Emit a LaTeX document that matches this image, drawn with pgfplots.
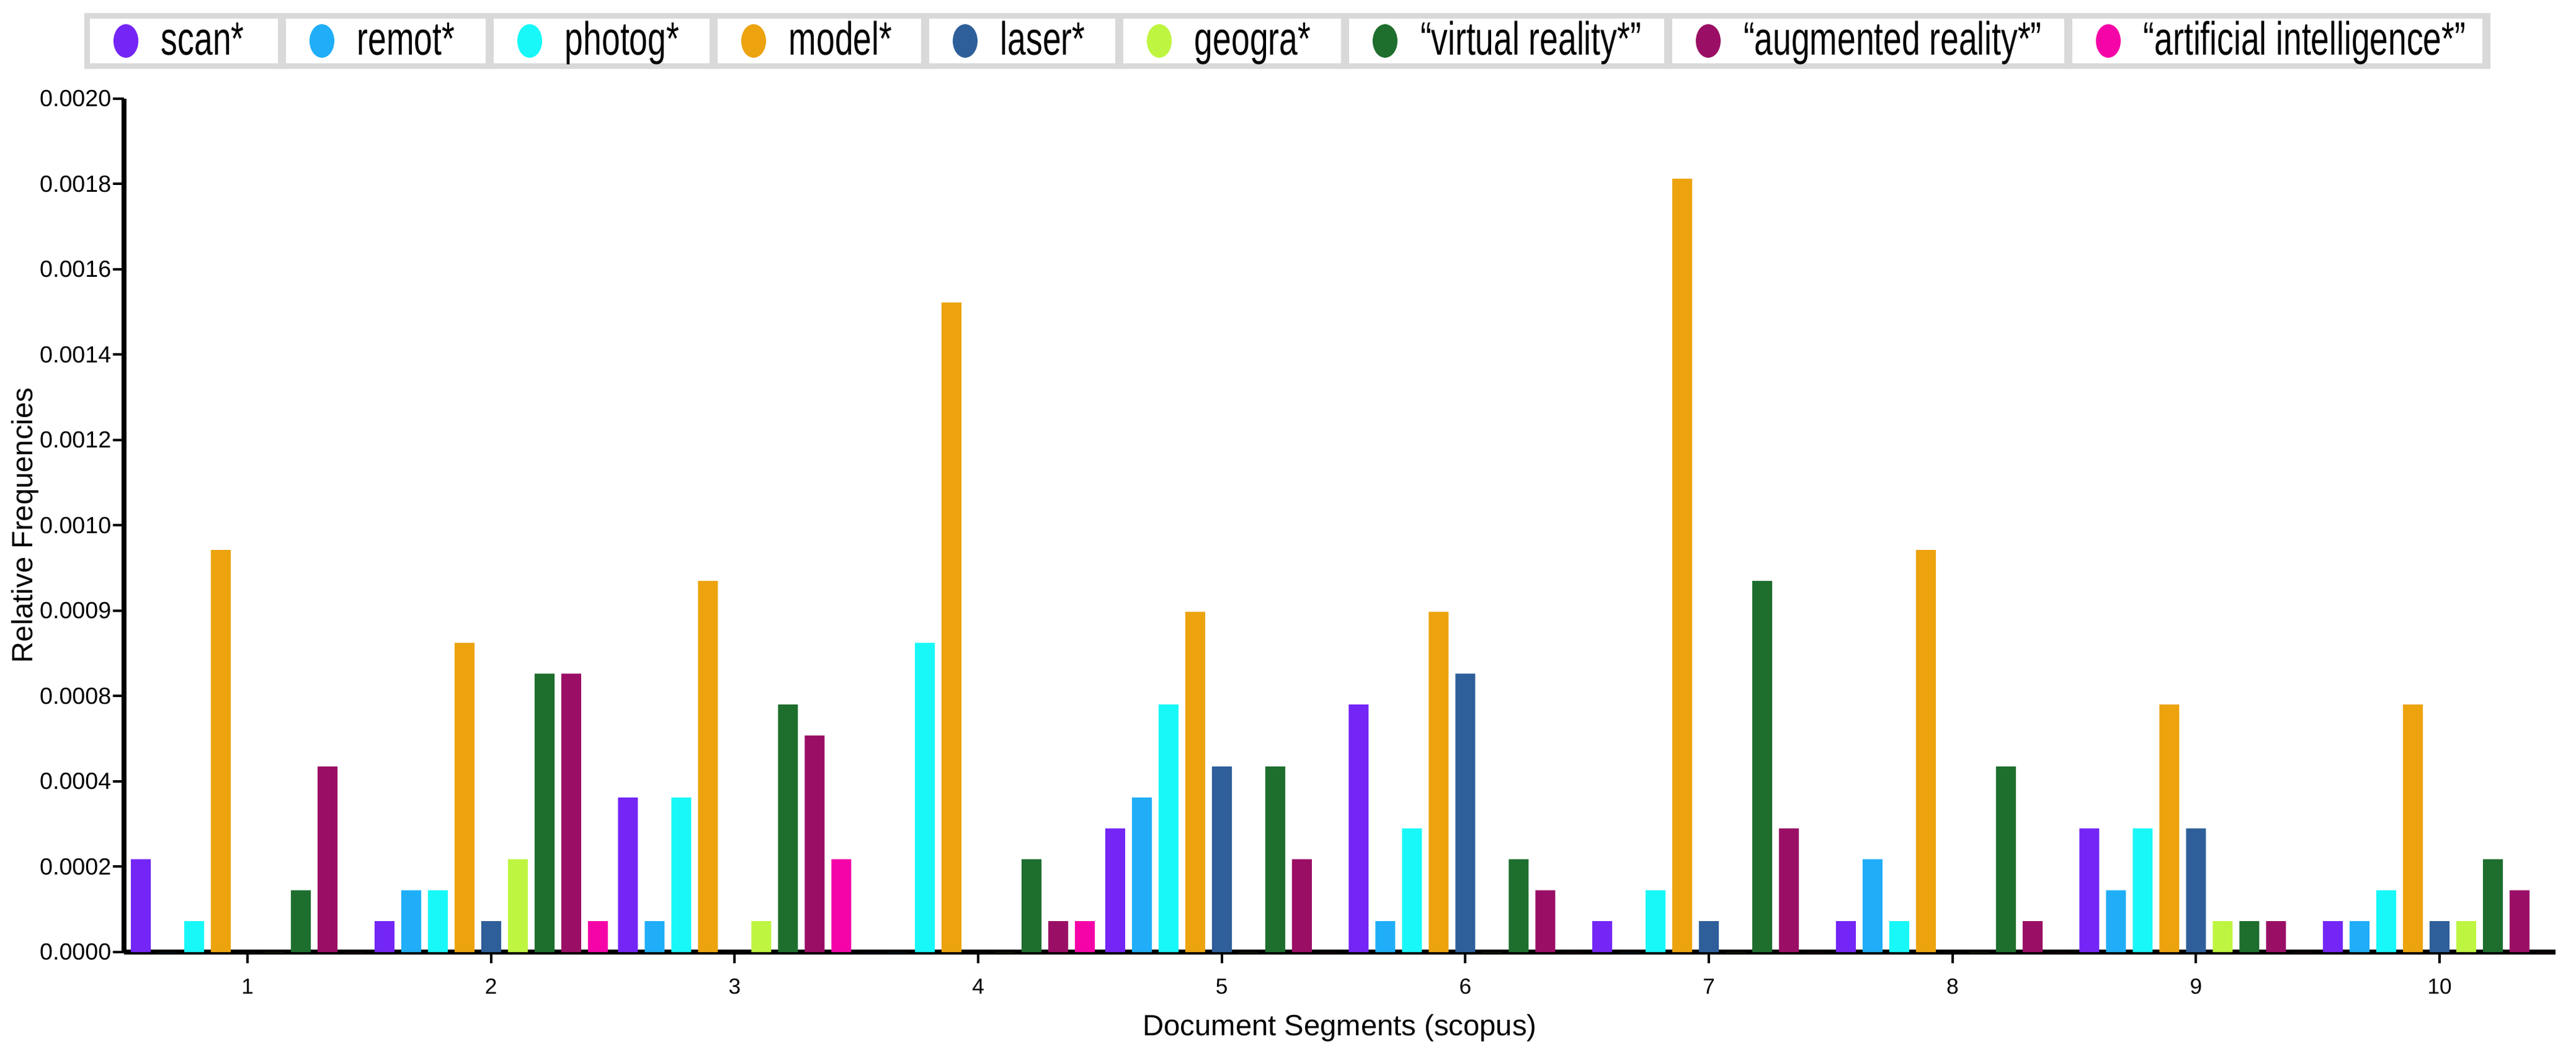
\documentclass[border=0pt]{standalone}
\usepackage{fontspec}
\setmainfont{Liberation Sans}
\newfontfamily\legfontfam[FakeStretch=0.71]{Liberation Sans}
\newcommand{\legfont}{\legfontfam\fontsize{18.8}{20}\selectfont}
\usepackage{pgfplots}
\usepackage{pgfplotstable}
\pgfplotsset{compat=1.18}

\definecolor{cScan}{HTML}{7326F5}
\definecolor{cRemot}{HTML}{20AEF8}
\definecolor{cPhotog}{HTML}{18F8F8}
\definecolor{cModel}{HTML}{ECA30E}
\definecolor{cLaser}{HTML}{2E5F9A}
\definecolor{cGeogra}{HTML}{BEF540}
\definecolor{cVR}{HTML}{1E6E2E}
\definecolor{cAR}{HTML}{9A0F65}
\definecolor{cAI}{HTML}{F505A8}
\definecolor{legGrey}{HTML}{D9D9D9}

% one white legend cell: colour, cell width, text
\newcommand{\legcell}[3]{%
  \fill[white] (0pt,-9pt) rectangle (#2,9pt);
  \fill[#1] (14.5pt,0pt) ellipse [x radius=5pt, y radius=6.75pt];
  \node[anchor=base west, inner sep=0pt, font=\legfont, text=black] at (28.75pt,-5.75pt) {#3};}

\pgfplotstableread{
seg scan      remot     photog    model     laser     geogra    vr        ar        ai
1   0.0002175 0         0.0000725 0.0009425 0         0         0.000145  0.000435  0
2   0.0000725 0.000145  0.000145  0.000725  0.0000725 0.0002175 0.0006525 0.0006525 0.0000725
3   0.0003625 0.0000725 0.0003625 0.00087   0         0.0000725 0.00058   0.0005075 0.0002175
4   0         0         0.000725  0.0015225 0         0         0.0002175 0.0000725 0.0000725
5   0.00029   0.0003625 0.00058   0.0007975 0.000435  0         0.000435  0.0002175 0
6   0.00058   0.0000725 0.00029   0.0007975 0.0006525 0         0.0002175 0.000145  0
7   0.0000725 0         0.000145  0.0018125 0.0000725 0         0.00087   0.00029   0
8   0.0000725 0.0002175 0.0000725 0.0009425 0         0         0.000435  0.0000725 0
9   0.00029   0.000145  0.00029   0.00058   0.00029   0.0000725 0.0000725 0.0000725 0
10  0.0000725 0.0000725 0.000145  0.00058   0.0000725 0.0000725 0.0002175 0.000145  0
}\segdata

\begin{document}
\begin{tikzpicture}
\begin{axis}[
  scale only axis,
  width=980pt, height=343.75pt,
  ybar=2.75pt, bar width=8pt,
  xmin=0.493, xmax=10.476,
  ymin=0, ymax=0.002,
  scaled y ticks=false,
  axis x line*=bottom, axis y line*=left,
  axis line style={line width=2pt},
  tick align=outside,
  major tick length=4.5pt,
  major tick style={line width=1pt, black},
  xtick={1,2,3,4,5,6,7,8,9,10},
  ytick={0,0.0002,0.0004,0.0006,0.0008,0.001,0.0012,0.0014,0.0016,0.0018,0.002},
  yticklabels={0.0000,0.0002,0.0004,0.0008,0.0009,0.0010,0.0012,0.0014,0.0016,0.0018,0.0020},
  /pgf/number format/assume math mode=true,
  ticklabel style={font=\fontsize{9.4}{11}\selectfont},
  yticklabel style={inner sep=0pt, xshift=-0.5pt},
  xticklabel style={inner sep=0pt, anchor=north, yshift=-6pt, font=\fontsize{8.8}{10}\selectfont},
  xlabel={Document Segments (scopus)},
  ylabel={Relative Frequencies},
  label style={font=\fontsize{11.8}{14}\selectfont},
  xlabel style={at={(axis description cs:0.5,-0.0975)}, anchor=base},
  ylabel style={at={(axis description cs:-0.0408,0.5)}, anchor=center},
  legend columns=9,
  legend style={at={(-0.01633,1.10036)}, anchor=north west, fill=legGrey, draw=none,
    inner sep=2.25pt, outer sep=0pt, column sep=0pt, row sep=0pt,
    nodes={inner sep=0pt},
    /tikz/every even column/.append style={column sep=2.25pt}},
]
\addplot[fill=cScan, draw=none, legend image code/.code={\legcell{cScan}{75.75pt}{scan*}}] table[x=seg, y=scan] {\segdata};
\addlegendentry{\mbox{}}
\addplot[fill=cRemot, draw=none, legend image code/.code={\legcell{cRemot}{80.5pt}{remot*}}] table[x=seg, y=remot] {\segdata};
\addlegendentry{\mbox{}}
\addplot[fill=cPhotog, draw=none, legend image code/.code={\legcell{cPhotog}{87pt}{photog*}}] table[x=seg, y=photog] {\segdata};
\addlegendentry{\mbox{}}
\addplot[fill=cModel, draw=none, legend image code/.code={\legcell{cModel}{82pt}{model*}}] table[x=seg, y=model] {\segdata};
\addlegendentry{\mbox{}}
\addplot[fill=cLaser, draw=none, legend image code/.code={\legcell{cLaser}{75pt}{laser*}}] table[x=seg, y=laser] {\segdata};
\addlegendentry{\mbox{}}
\addplot[fill=cGeogra, draw=none, legend image code/.code={\legcell{cGeogra}{87.75pt}{geogra*}}] table[x=seg, y=geogra] {\segdata};
\addlegendentry{\mbox{}}
\addplot[fill=cVR, draw=none, legend image code/.code={\legcell{cVR}{127pt}{“virtual reality*”}}] table[x=seg, y=vr] {\segdata};
\addlegendentry{\mbox{}}
\addplot[fill=cAR, draw=none, legend image code/.code={\legcell{cAR}{158pt}{“augmented reality*”}}] table[x=seg, y=ar] {\segdata};
\addlegendentry{\mbox{}}
\addplot[fill=cAI, draw=none, legend image code/.code={\legcell{cAI}{165.25pt}{“artificial intelligence*”}}] table[x=seg, y=ai] {\segdata};
\addlegendentry{\mbox{}}
\end{axis}
\path (-50pt,-42pt) rectangle (988.25pt,383.5pt);
\end{tikzpicture}
\end{document}
